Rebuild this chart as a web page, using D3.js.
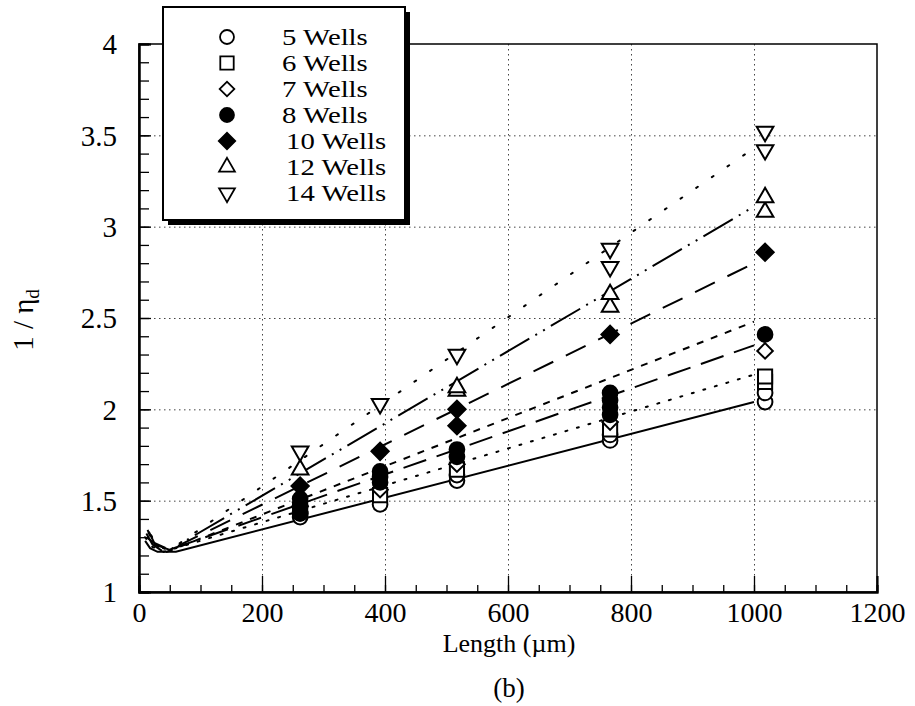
<!DOCTYPE html>
<html lang="en">
<head>
    <meta charset="UTF-8">
    <title>1 / eta_d versus length</title>
    <script src="https://d3js.org/d3.v7.min.js"></script>
    <style>
        body {
            margin: 0;
            background: #fff;
        }

        svg text {
            font-family: "Liberation Serif", "DejaVu Serif", serif;
            fill: #000;
        }

        .grid line {
            stroke: #444;
            stroke-width: 1;
            stroke-dasharray: 1.5, 3.5;
        }

        .fit {
            fill: none;
            stroke: #000;
            stroke-width: 2;
        }
    </style>
</head>
<body>

<svg id="chart" width="915" height="706"></svg>

<script>
    const serif = "'Liberation Serif', 'DejaVu Serif', serif";

    // Tick values
    const xMajor = [0, 200, 400, 600, 800, 1000, 1200];
    const xMinor = d3.range(0, 1201, 50);
    const yMajor = [1, 1.5, 2, 2.5, 3, 3.5, 4];
    const yMinor = d3.range(10, 41, 1).map(d => d / 10);
    const xGrid = [200, 400, 600, 800, 1000];
    const yGrid = [1.5, 2, 2.5, 3, 3.5];

    // Series names (legend order)
    const seriesNames = ["5 Wells", "6 Wells", "7 Wells", "8 Wells", "10 Wells", "12 Wells", "14 Wells"];

    // Measured points [length um, 1/eta_d]
    const wells5  = [[262, 1.41], [262, 1.43], [392, 1.48], [517, 1.61], [517, 1.64], [766, 1.83], [766, 1.86], [1018, 2.04], [1018, 2.09]];
    const wells6  = [[262, 1.45], [392, 1.53], [517, 1.67], [766, 1.89], [1018, 2.15], [1018, 2.18]];
    const wells7  = [[262, 1.47], [392, 1.56], [517, 1.70], [766, 1.93], [1018, 2.32]];
    const wells8  = [[262, 1.43], [262, 1.47], [262, 1.51], [392, 1.60], [392, 1.63], [392, 1.66],
                     [517, 1.74], [517, 1.78], [766, 1.97], [766, 2.01], [766, 2.05], [766, 2.09], [1018, 2.41]];
    const wells10 = [[262, 1.58], [392, 1.77], [517, 1.91], [517, 2.00], [766, 2.41], [1018, 2.86]];
    const wells12 = [[262, 1.67], [517, 2.10], [517, 2.12], [766, 2.56], [766, 2.63], [1018, 3.08], [1018, 3.16]];
    const wells14 = [[262, 1.77], [392, 2.03], [517, 2.30], [766, 2.78], [766, 2.88], [1018, 3.42], [1018, 3.52]];

    // Fitted curves [length um, 1/eta_d]
    const fit5  = [[10, 1.28], [18, 1.24], [30, 1.22], [60, 1.22], [1000, 2.04]];
    const fit6  = [[10, 1.30], [20, 1.25], [40, 1.22], [1000, 2.19]];
    const fit7  = [[12, 1.32], [22, 1.26], [40, 1.22], [1000, 2.35]];
    const fit8  = [[14, 1.34], [22, 1.27], [45, 1.22], [1000, 2.48]];
    const fit10 = [[12, 1.30], [24, 1.27], [50, 1.23], [1000, 2.80]];
    const fit12 = [[16, 1.33], [26, 1.26], [50, 1.23], [1000, 3.11]];
    const fit14 = [[20, 1.31], [28, 1.25], [50, 1.23], [1000, 3.43]];

    const points = [wells5, wells6, wells7, wells8, wells10, wells12, wells14];
    const fits = [fit5, fit6, fit7, fit8, fit10, fit12, fit14];

    // marker style per series
    const markers = [
        { type: d3.symbolCircle, size: 170, rot: 0, filled: false },
        { type: d3.symbolSquare, size: 200, rot: 0, filled: false },
        { type: d3.symbolSquare, size: 120, rot: 45, filled: false },
        { type: d3.symbolCircle, size: 170, rot: 0, filled: true },
        { type: d3.symbolSquare, size: 150, rot: 45, filled: true },
        { type: d3.symbolTriangle, size: 120, rot: 0, filled: false },
        { type: d3.symbolTriangle, size: 120, rot: 180, filled: false }
    ];
    const dashes = ["none", "2,10", "24,11", "7,8", "22,14", "34,7,2,7,2,7", "2,17"];

    const margin = { top: 44, right: 38, bottom: 114, left: 139 },
          width = 915 - margin.left - margin.right,
          height = 706 - margin.top - margin.bottom;

    const svg = d3.select("#chart")
                  .append("g")
                  .attr("transform", `translate(${margin.left},${margin.top})`);

    const x = d3.scaleLinear().domain([0, 1200]).range([0, width]);
    const y = d3.scaleLinear().domain([1, 4]).range([height, 0]);

    // grid
    svg.append("g")
       .attr("class", "grid")
       .call(d3.axisBottom(x).tickValues(xGrid).tickSize(height).tickFormat(""))
       .call(g => g.select(".domain").remove());

    svg.append("g")
       .attr("class", "grid")
       .call(d3.axisLeft(y).tickValues(yGrid).tickSize(-width).tickFormat(""))
       .call(g => g.select(".domain").remove());

    // fitted curves
    const line = d3.line().x(d => x(d[0])).y(d => y(d[1]));
    svg.selectAll(".fit")
       .data(fits)
       .enter()
       .append("path")
       .attr("class", "fit")
       .attr("stroke-dasharray", (d, i) => dashes[i])
       .attr("stroke-linecap", (d, i) => i === 1 || i === 6 ? "round" : "butt")
       .attr("d", line);

    // measured points
    points.forEach((pts, i) => {
        const m = markers[i];
        svg.append("g")
           .selectAll("path")
           .data(pts)
           .enter()
           .append("path")
           .attr("d", d3.symbol().type(m.type).size(m.size))
           .attr("transform", d => `translate(${x(d[0])},${y(d[1])}) rotate(${m.rot})`)
           .attr("fill", m.filled ? "#000" : "#fff")
           .attr("stroke", "#000")
           .attr("stroke-width", 2);
    });

    // frame
    svg.append("rect")
       .attr("width", width)
       .attr("height", height)
       .attr("fill", "none")
       .attr("stroke", "#000")
       .attr("stroke-width", 1.5);

    // axes, ticks point inward
    const xAxisG = svg.append("g").attr("transform", `translate(0,${height})`);
    xAxisG.append("g")
          .call(d3.axisBottom(x).tickValues(xMinor).tickSize(-7).tickFormat(""));
    xAxisG.append("g")
          .call(d3.axisBottom(x).tickValues(xMajor).tickSize(-16).tickPadding(10).tickFormat(d3.format("d")))
          .attr("font-family", serif)
          .selectAll("text")
          .style("font-size", "28px");
    xAxisG.selectAll(".domain").attr("stroke-width", 2);
    xAxisG.selectAll(".tick line").attr("stroke-width", 1.3);

    const yAxisG = svg.append("g");
    yAxisG.append("g")
          .call(d3.axisLeft(y).tickValues(yMinor).tickSize(-10).tickFormat(""));
    yAxisG.append("g")
          .call(d3.axisLeft(y).tickValues(yMajor).tickSize(-12).tickPadding(22).tickFormat(d3.format("")))
          .attr("font-family", serif)
          .selectAll("text")
          .style("font-size", "29px")
          .attr("dy", "0.34em");
    yAxisG.selectAll(".domain").attr("stroke-width", 2);
    yAxisG.selectAll(".tick line").attr("stroke-width", 1.3);

    // axis titles
    const yTitle = d3.select("#chart").append("text")
       .attr("transform", "translate(33,320) rotate(-90)")
       .attr("text-anchor", "middle")
       .style("font-size", "29px");
    yTitle.append("tspan").text("1 / \u03b7");
    yTitle.append("tspan").attr("dy", "0.3em").style("font-size", "19px").text("d");

    d3.select("#chart").append("text")
       .attr("x", 509)
       .attr("y", 652)
       .attr("text-anchor", "middle")
       .style("font-size", "26px")
       .text("Length (\u00b5m)");

    d3.select("#chart").append("text")
       .attr("x", 509)
       .attr("y", 697)
       .attr("text-anchor", "middle")
       .style("font-size", "27px")
       .text("(b)");

    // legend
    const legend = d3.select("#chart").append("g");
    legend.append("rect")
          .attr("x", 168).attr("y", 12)
          .attr("width", 242).attr("height", 213)
          .attr("fill", "#000");
    legend.append("rect")
          .attr("x", 163).attr("y", 7)
          .attr("width", 242).attr("height", 213)
          .attr("fill", "#fff")
          .attr("stroke", "#000")
          .attr("stroke-width", 2);

    seriesNames.forEach((name, i) => {
        const m = markers[i];
        const cy = 37 + i * 26;
        legend.append("path")
              .attr("d", d3.symbol().type(m.type).size(m.size * 0.9))
              .attr("transform", `translate(227,${cy}) rotate(${m.rot})`)
              .attr("fill", m.filled ? "#000" : "#fff")
              .attr("stroke", "#000")
              .attr("stroke-width", 1.8);
        // tight rows as in the original: smaller type, stretched sideways
        const t = legend.append("text")
              .attr("x", name.length > 7 ? 286 : 282)
              .attr("y", cy + 8)
              .style("font-size", "23px")
              .text(name);
        const w = t.node().getComputedTextLength();
        t.attr("textLength", w * 1.25).attr("lengthAdjust", "spacingAndGlyphs");
    });
</script>

</body>
</html>
